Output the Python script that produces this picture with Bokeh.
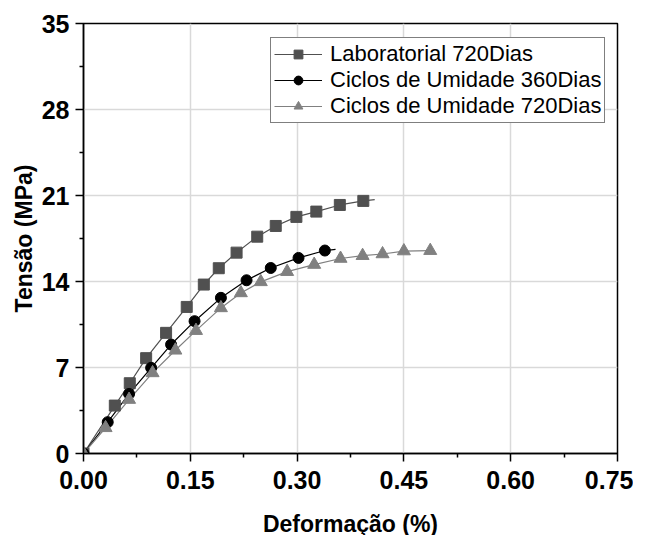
from bokeh.plotting import figure
from bokeh.models import FixedTicker, Range1d, Legend, LegendItem
from bokeh.embed import file_html
from bokeh.resources import INLINE

# Data
lab720_x = [0, 0.044, 0.065, 0.088, 0.116, 0.145, 0.169, 0.190, 0.215, 0.244, 0.270, 0.299, 0.327, 0.360, 0.393]
lab720_y = [0, 3.9, 5.72, 7.76, 9.82, 11.93, 13.75, 15.08, 16.35, 17.65, 18.52, 19.26, 19.69, 20.23, 20.56]
lab720_line_end = (0.409, 20.66)

ciclo360_x = [0, 0.034, 0.064, 0.095, 0.123, 0.156, 0.193, 0.229, 0.263, 0.302, 0.339]
ciclo360_y = [0, 2.55, 4.85, 6.97, 8.87, 10.77, 12.67, 14.10, 15.10, 15.92, 16.52]
ciclo360_line_end = (0.354, 16.62)

ciclo720_x = [0, 0.031, 0.064, 0.097, 0.129, 0.158, 0.193, 0.221, 0.249, 0.286, 0.324, 0.361, 0.392, 0.420, 0.450, 0.487]
ciclo720_y = [0, 2.09, 4.39, 6.56, 8.40, 10.00, 11.85, 13.07, 13.97, 14.80, 15.38, 15.87, 16.10, 16.24, 16.48, 16.51]

labels = ["Laboratorial 720Dias", "Ciclos de Umidade 360Dias", "Ciclos de Umidade 720Dias"]
x_ticks = [0, 0.15, 0.30, 0.45, 0.60, 0.75]
x_minor = [0.075, 0.225, 0.375, 0.525, 0.675]
y_ticks = [0, 7, 14, 21, 28, 35]
y_minor = [3.5, 10.5, 17.5, 24.5, 31.5]

FONT = "Liberation Sans"

p = figure(frame_width=534, frame_height=430,
           min_border_left=83, min_border_right=16, min_border_top=23, min_border_bottom=72,
           x_range=Range1d(0, 0.75), y_range=Range1d(0, 35),
           output_backend="svg", toolbar_location=None,
           background_fill_color="white", border_fill_color="white")

p.outline_line_color = "black"
p.outline_line_width = 1.5

for ax in (p.xaxis[0], p.yaxis[0]):
    ax.axis_line_color = "black"
    ax.axis_line_width = 1.5
    ax.major_tick_line_color = "black"
    ax.major_tick_line_width = 1.5
    ax.minor_tick_line_color = "black"
    ax.minor_tick_line_width = 1.5
    ax.major_tick_out = 8
    ax.major_tick_in = 0
    ax.minor_tick_out = 4
    ax.minor_tick_in = 0
    ax.major_label_text_font = FONT
    ax.major_label_text_font_style = "bold"
    ax.major_label_text_font_size = "25px"
    ax.major_label_text_color = "black"
    ax.axis_label_text_font = FONT
    ax.axis_label_text_font_style = "bold"
    ax.axis_label_text_font_size = "23px"
    ax.axis_label_text_color = "black"

p.xaxis[0].ticker = FixedTicker(ticks=x_ticks, minor_ticks=x_minor)
p.yaxis[0].ticker = FixedTicker(ticks=y_ticks, minor_ticks=y_minor)
p.xaxis[0].major_label_overrides = {t: f"{t:.2f}" for t in x_ticks}
p.yaxis[0].major_label_overrides = {t: str(t) for t in y_ticks}
p.xaxis[0].axis_label = "Deformação (%)"
p.yaxis[0].axis_label = "Tensão (MPa)"
p.xaxis[0].major_label_standoff = 9
p.yaxis[0].major_label_standoff = 6
p.xaxis[0].axis_label_standoff = 19
p.yaxis[0].axis_label_standoff = 2

p.xgrid.ticker = FixedTicker(ticks=x_ticks)
p.ygrid.ticker = FixedTicker(ticks=y_ticks)
p.grid.grid_line_color = "#d9d9d9"
p.grid.grid_line_width = 1.5

c_lab = "#505050"
c_360 = "#000000"
c_720 = "#808080"

l1 = p.line(lab720_x + [lab720_line_end[0]], lab720_y + [lab720_line_end[1]], line_color=c_lab, line_width=1.2)
l2 = p.line(ciclo360_x + [ciclo360_line_end[0]], ciclo360_y + [ciclo360_line_end[1]], line_color=c_360, line_width=1.2)
l3 = p.line(ciclo720_x, ciclo720_y, line_color=c_720, line_width=1.2)

s1 = p.scatter(lab720_x, lab720_y, marker="square", size=11, fill_color=c_lab, line_color=c_lab)
s2 = p.scatter(ciclo360_x, ciclo360_y, marker="circle", size=11, fill_color=c_360, line_color=c_360)
s3 = p.scatter(ciclo720_x, ciclo720_y, marker="triangle", size=13, fill_color=c_720, line_color=c_720)

legend = Legend(items=[LegendItem(label=labels[0], renderers=[l1, s1]),
                       LegendItem(label=labels[1], renderers=[l2, s2]),
                       LegendItem(label=labels[2], renderers=[l3, s3])],
                location=(187, 330))
legend.label_text_font = FONT
legend.label_text_font_size = "22px"
legend.label_text_color = "black"
legend.glyph_width = 48
legend.glyph_height = 22
legend.label_height = 22
legend.spacing = 0
legend.padding = 3
legend.margin = 0
legend.label_standoff = 8
legend.border_line_color = "black"
legend.border_line_width = 1
legend.background_fill_alpha = 1
p.add_layout(legend, "center")

open("out.html", "w").write(file_html(p, INLINE))
